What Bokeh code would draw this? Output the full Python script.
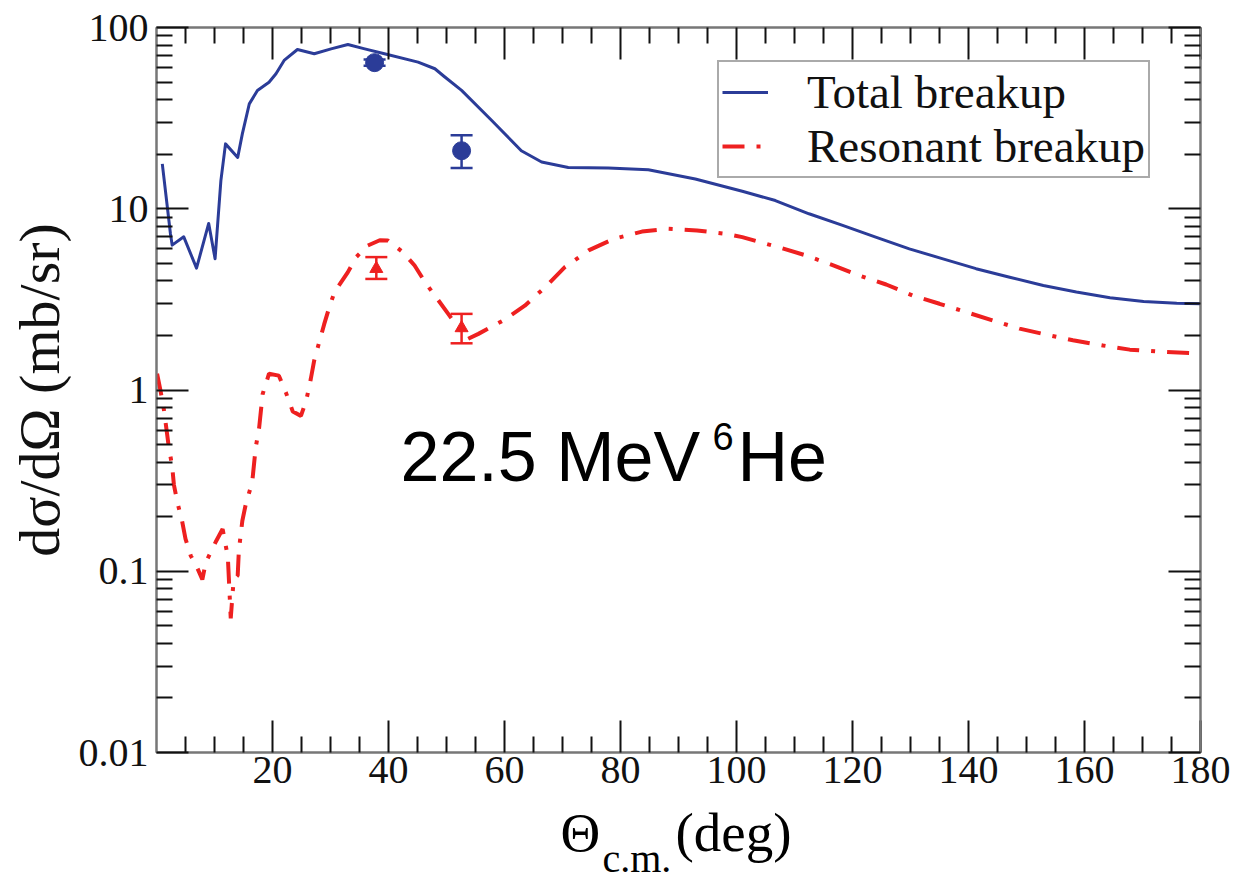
from bokeh.plotting import figure
from bokeh.layouts import column
from bokeh.models import (Range1d, FixedTicker, LinearAxis, LogAxis, CustomJSTickFormatter,
                          Legend, LegendItem, Label, Whisker, ColumnDataSource, TeeHead)
from bokeh.embed import file_html
from bokeh.resources import INLINE

# ---------------- data ----------------
theta_total = [1.0, 2.4, 2.7, 4.7, 6.9, 9.0, 10.1, 11.1, 11.9, 14.0, 14.8, 16.0, 17.4, 19.4,
               20.6, 22.0, 24.3, 27.2, 30.1, 33.0, 35.9, 39.3, 45.1, 48.0, 49.5, 52.6, 57.8,
               62.9, 66.4, 71.0, 77.9, 84.8, 92.9, 101.0, 106.7, 112.5, 118.3, 124.0, 129.8,
               135.6, 141.3, 147.1, 152.9, 158.6, 164.4, 170.2, 175.9, 180.0]
sigma_total = [17.7, 7.3, 6.3, 7.0, 4.7, 8.3, 5.3, 14.3, 22.8, 19.2, 25.9, 37.9, 44.9, 49.9,
               55.6, 65.8, 75.6, 71.7, 76.2, 80.5, 76.2, 71.6, 64.4, 59.2, 54.0, 45.0, 30.7,
               20.9, 18.1, 16.9, 16.8, 16.4, 14.6, 12.5, 11.1, 9.38, 8.09, 6.97, 6.01,
               5.29, 4.67, 4.19, 3.77, 3.47, 3.23, 3.08, 3.01, 2.99]

theta_res = [0.1, 0.7, 1.3, 2.1, 2.7, 3.0, 3.6, 4.4, 5.0, 5.9, 7.0, 7.9, 8.5, 10.2, 11.4,
             12.3, 12.8, 13.3, 14.0, 14.2, 14.8, 15.4, 16.5, 17.1, 17.7, 18.3, 19.4, 21.1,
             22.3, 23.5, 24.9, 25.8, 26.6, 27.2, 28.9, 29.8, 30.7, 33.0, 34.4, 36.4, 38.5,
             39.9, 42.5, 44.5, 46.5, 48.2, 50.3, 53.5, 55.5, 59.8, 63.5, 67.0, 70.4, 74.5,
             78.9, 83.7, 88.3, 93.2, 98.1, 101.0, 107.6, 112.0, 116.8, 121.2, 125.8, 130.4,
             135.0, 139.6, 144.2, 148.8, 153.4, 158.0, 163.2, 167.8, 172.7, 178.2, 180.0]
sigma_res = [1.23, 0.99, 0.77, 0.49, 0.38, 0.30, 0.24, 0.19, 0.151, 0.122, 0.105, 0.090,
             0.112, 0.145, 0.171, 0.12, 0.055, 0.09, 0.095, 0.13, 0.19, 0.235, 0.31, 0.48,
             0.62, 0.95, 1.23, 1.2, 0.97, 0.76, 0.72, 0.87, 1.15, 1.46, 2.3, 2.87, 3.47,
             4.47, 5.4, 6.26, 6.7, 6.68, 5.75, 4.86, 3.85, 3.25, 2.63, 1.9, 2.04, 2.42,
             2.92, 3.69, 4.76, 5.89, 6.83, 7.48, 7.75, 7.59, 7.28, 6.97, 6.09, 5.52, 4.86,
             4.28, 3.82, 3.32, 2.99, 2.69, 2.42, 2.18, 2.02, 1.88, 1.76, 1.67, 1.63, 1.60,
             1.59]

exp_theta_total = [37.6, 52.6]
exp_sigma_total = [64.0, 20.9]
exp_lo_total = [61.5, 16.8]
exp_hi_total = [66.5, 25.4]

exp_theta_res = [37.9, 52.6]
exp_sigma_res = [4.67, 2.2]
exp_lo_res = [4.10, 1.81]
exp_hi_res = [5.41, 2.63]

x_ticks = [20, 40, 60, 80, 100, 120, 140, 160, 180]
x_minor = [v for v in range(5, 180, 5) if v % 20 != 0]
y_ticks = [0.01, 0.1, 1, 10, 100]
y_tick_labels = ["0.01", "0.1", "1", "10", "100"]
y_minor = [m * 10 ** e for e in range(-2, 2) for m in range(2, 10)]

BLUE = "#2b3c98"
RED = "#ee2020"
SERIF = "Liberation Serif"
SANS = "Liberation Sans"

# ---------------- main figure ----------------
p = figure(width=1235, height=802, y_axis_type="log",
           x_range=Range1d(0, 180), y_range=Range1d(0.01, 100),
           output_backend="svg", toolbar_location=None,
           min_border_left=156, min_border_right=35, min_border_top=27, min_border_bottom=50)
p.xgrid.visible = False
p.ygrid.visible = False
p.outline_line_color = "#777777"
p.outline_line_width = 2
p.background_fill_color = "white"
p.border_fill_color = "white"

xt = FixedTicker(ticks=x_ticks, minor_ticks=x_minor)
yt = FixedTicker(ticks=y_ticks, minor_ticks=y_minor)
yfmt = CustomJSTickFormatter(args=dict(vals=y_ticks, labels=y_tick_labels), code="""
let best = 0, bd = 1e9;
for (let i = 0; i < vals.length; i++) {
  const d = Math.abs(Math.log10(vals[i]) - Math.log10(tick));
  if (d < bd) { bd = d; best = i; }
}
return labels[best];
""")
blank = CustomJSTickFormatter(code="return '';")


def style(ax):
    ax.axis_line_color = "#777777"
    ax.axis_line_width = 2
    ax.major_tick_in = 32
    ax.major_tick_out = 0
    ax.minor_tick_in = 16
    ax.minor_tick_out = 0
    ax.major_tick_line_color = "#111111"
    ax.major_tick_line_width = 2
    ax.minor_tick_line_color = "#111111"
    ax.minor_tick_line_width = 2
    ax.major_label_text_font = SERIF
    ax.major_label_text_font_size = "40px"
    ax.major_label_text_color = "#111111"


xa = p.xaxis[0]
xa.ticker = xt
style(xa)
xa.major_label_standoff = 4

ya = p.yaxis[0]
ya.ticker = yt
ya.formatter = yfmt
style(ya)
ya.major_label_standoff = 8
ya.axis_label = "dσ/dΩ (mb/sr)"
ya.axis_label_text_font = SERIF
ya.axis_label_text_font_size = "58px"
ya.axis_label_text_font_style = "normal"
ya.axis_label_text_color = "#111111"
ya.axis_label_standoff = 4

top = LinearAxis(ticker=xt, formatter=blank)
style(top)
p.add_layout(top, "above")
right = LogAxis(ticker=yt, formatter=blank)
style(right)
p.add_layout(right, "right")

# ---------------- curves ----------------
l_total = p.line(theta_total, sigma_total, line_color=BLUE, line_width=3, line_join="round")
l_res = p.line(theta_res, sigma_res, line_color=RED, line_width=4, line_dash="22 12 4 12")

# ---------------- experimental points ----------------
src_t = ColumnDataSource(dict(x=exp_theta_total, y=exp_sigma_total, lo=exp_lo_total, hi=exp_hi_total))
src_r = ColumnDataSource(dict(x=exp_theta_res, y=exp_sigma_res, lo=exp_lo_res, hi=exp_hi_res))
for src, col in ((src_t, BLUE), (src_r, RED)):
    w = Whisker(source=src, base="x", lower="lo", upper="hi", line_color=col, line_width=2.5,
                upper_head=TeeHead(size=22, line_color=col, line_width=2.5),
                lower_head=TeeHead(size=22, line_color=col, line_width=2.5))
    p.add_layout(w)
p.scatter("x", "y", source=src_t, marker="circle", size=18, fill_color=BLUE, line_color=BLUE)
p.scatter("x", "y", source=src_r, marker="triangle", size=13, fill_color=RED, line_color=RED)

# ---------------- legend ----------------
legend = Legend(items=[LegendItem(label="Total breakup", renderers=[l_total]),
                       LegendItem(label="Resonant breakup", renderers=[l_res])],
                location=(561, 574), margin=0, padding=3, spacing=0,
                glyph_width=46, glyph_height=50, label_height=50, label_standoff=39,
                label_text_font=SERIF, label_text_font_size="47px", label_text_color="#111111",
                border_line_color="#555555", border_line_width=2,
                background_fill_color="white", background_fill_alpha=1.0)
p.add_layout(legend)


def lab(fig, text, x, y, size, font=SERIF):
    fig.add_layout(Label(text=text, x=x, y=y, x_units="screen", y_units="screen",
                         text_font=font, text_font_size=size, text_color="black",
                         text_baseline="alphabetic"))


# in-plot annotation (frame-relative screen coords)
lab(p, "22.5 MeV", 244, 296, "70px", font=SANS)
lab(p, "6", 556, 316, "38px", font=SANS)
lab(p, "He", 581, 296, "70px", font=SANS)

# ---------------- strip below holding the x-axis title ----------------
p2 = figure(width=1235, height=81, x_range=Range1d(0, 1044), y_range=Range1d(0, 81),
            output_backend="svg", toolbar_location=None,
            x_axis_location=None, y_axis_location=None,
            min_border_left=0, min_border_right=0, min_border_top=0, min_border_bottom=0)
p2.xgrid.visible = False
p2.ygrid.visible = False
p2.outline_line_color = None
p2.background_fill_color = "white"
p2.border_fill_color = "white"
lab(p2, "Θ", 404, 51, "55px")
lab(p2, "c.m.", 446, 25, "40px")
lab(p2, "(deg)", 519, 51, "55px")

root = column(p, p2, spacing=0)
open("out.html", "w").write(file_html(root, INLINE))
